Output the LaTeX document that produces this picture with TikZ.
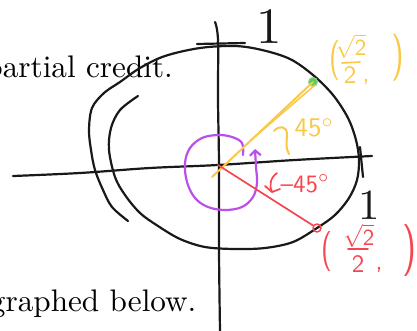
\documentclass[tikz,border=0pt]{standalone}
\usetikzlibrary{arrows.meta}
\definecolor{ink}{RGB}{25,25,25}
\definecolor{hy}{RGB}{250,200,70}
\definecolor{hr}{RGB}{245,70,80}
\definecolor{hp}{RGB}{185,80,235}
\definecolor{hg}{RGB}{95,200,90}
\begin{document}
\begin{tikzpicture}[x=1pt,y=-1pt,line cap=round,line join=round,
  inkline/.style={draw=ink,line width=2.2pt},
  yline/.style={draw=hy,line width=2pt},
  rline/.style={draw=hr,line width=1.7pt},
  pline/.style={draw=hp,line width=2.2pt},
  body/.style={scale=3.12,inner sep=0pt,text=black},
  inktext/.style={inner sep=0pt,text=ink},
  ytext/.style={inner sep=0pt,text=hy,font=\sffamily},
  rtext/.style={inner sep=0pt,text=hr,font=\sffamily}]
\useasboundingbox (0,0) rectangle (417,331);
% printed text
\node[body,anchor=base east] (t1) at (173.5,77.3) {partial credit.};
\node[body,anchor=base east] (t2) at (197,311.7) {graphed below.};
% axes
\coordinate (O) at (218,165);
\draw[inkline] plot[smooth,tension=0.6] coordinates {(13,176) (80,173) (150,168) (218,165) (295,160) (372,156)};
\draw[inkline] plot[smooth,tension=0.6] coordinates {(215,22) (218,40) (218,100) (219,165) (219,250) (220,331)};
\draw[inkline] (197,44) -- (245,43);
\draw[inkline] (360,147) -- (363,177);
\node[inktext,anchor=base,scale=5.1] (oneT) at (269,43.5) {1};
\node[inktext,anchor=base,scale=4.3] (oneR) at (369,219) {1};
% circle sketch
\draw[inkline] plot[smooth,tension=0.55] coordinates {(128,221) (112,207) (103,190) (95,170) (91,150) (89,130) (92,108) (104,93) (120,82) (140,68) (165,56) (200,48) (235,46) (262,50) (290,59) (313,75) (333,95) (348,118) (356,140) (359,160) (357,180) (349,198) (335,215) (317,228) (293,242) (265,248) (235,249) (205,247) (180,239) (158,226) (140,213) (125,195) (115,177) (109,150) (111,128) (120,110) (138,96)};
% purple spiral
\draw[pline,-{Straight Barb[length=5pt,width=11pt]}] plot[smooth,tension=0.6] coordinates {(243,155) (242,143) (232,137) (218,135) (202,138) (190,148) (185,163) (187,182) (195,198) (208,207) (225,210) (242,207) (253,197) (257,183) (256,167) (255,149)};
% yellow ray
\node[circle,fill=hg,draw=hg!70!white,line width=1pt,minimum size=9pt,inner sep=0pt] (gd) at (313,82) {};
\coordinate (ys) at (212,177);
\draw[yline] (ys) -- (gd.center);
\coordinate (ya) at (250,141);
\coordinate (yb) at (315,85);
\draw[yline,line width=1.5pt] (ya) -- (yb);
\draw[yline] (274,131) .. controls (279,125) and (287,126) .. (287,134) .. controls (287,142) and (285,148) .. (289,154);
\node[ytext,anchor=base west,scale=2.7] (y45) at (294,137) {45$^\circ$};
% yellow coordinates
\node[ytext,scale=4.0,xscale=0.7] (ylp) at (335,61) {(};
\node[ytext,anchor=north,scale=2.3] (ynum) at (351,34) {$\sqrt{\mathsf{2}}$};
\draw[yline,line width=1.6pt] (342,63) -- (360,62);
\node[ytext,anchor=base,scale=2.5] (yden) at (350,84) {2};
\node[ytext,anchor=base,scale=2.5] (ycom) at (366,82) {,};
\node[ytext,scale=4.7,xscale=0.7] (yrp) at (398,58) {)};
% red ray
\node[circle,draw=hr,line width=1.5pt,minimum size=8pt,inner sep=0pt] (rc) at (317,228) {};
\draw[rline] (O) -- (rc);
\draw[rline] (277,173) .. controls (270,178) and (269,186) .. (272,192);
\draw[rline] (265,186) -- (272,192) -- (280,189);
\node[rtext,anchor=base west,scale=2.5] (r45) at (280,192) {--45$^\circ$};
% red coordinates
\node[rtext,scale=4.0,xscale=0.7] (rlp) at (327,251) {(};
\node[rtext,anchor=base,scale=2.3] (rnum) at (359,245) {$\sqrt{\mathsf{2}}$};
\draw[rline] (348,249) -- (368,249);
\node[rtext,anchor=base,scale=2.5] (rden) at (358,272) {2};
\node[rtext,anchor=base,scale=2.5] (rcom) at (379,269) {,};
\node[rtext,scale=5.2,xscale=0.7] (rrp) at (410,250) {)};
\end{tikzpicture}
\end{document}
